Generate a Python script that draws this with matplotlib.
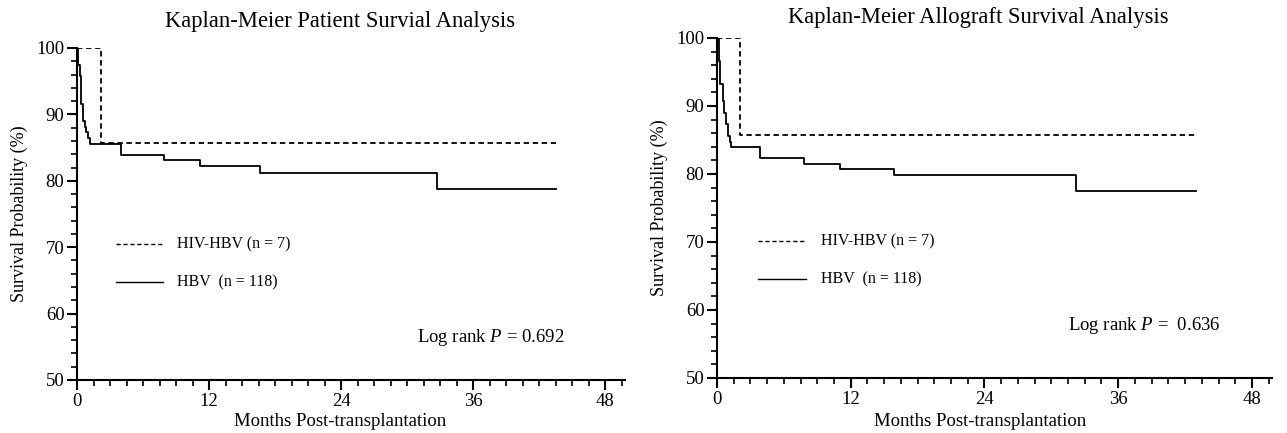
import matplotlib
matplotlib.use("Agg")
import matplotlib.pyplot as plt
from matplotlib.ticker import MultipleLocator

plt.rcParams['font.family'] = ['Liberation Serif', 'DejaVu Serif']
plt.rcParams['mathtext.fontset'] = 'custom'
plt.rcParams['mathtext.rm'] = 'Liberation Serif'
plt.rcParams['mathtext.it'] = 'Liberation Serif:italic'

# ---- data (months, survival %) ----
pat_hiv_t = [0, 2.2, 43.5]
pat_hiv_s = [100, 85.7, 85.7]
pat_hbv_t = [0, 0.1, 0.25, 0.4, 0.55, 0.7, 0.85, 1.0, 1.2, 4.0, 7.9, 11.2, 16.6, 32.7, 43.5]
pat_hbv_s = [100, 97.5, 95.8, 91.5, 89.0, 88.1, 87.3, 86.4, 85.6, 83.9, 83.1, 82.2, 81.2, 78.8, 78.8]

gft_hiv_t = [0, 2.1, 43.0]
gft_hiv_s = [100, 85.7, 85.7]
gft_hbv_t = [0, 0.15, 0.3, 0.5, 0.65, 0.8, 1.0, 1.15, 1.3, 3.9, 7.8, 11.0, 15.9, 32.2, 43.0]
gft_hbv_s = [100, 96.6, 93.2, 90.7, 89.0, 87.3, 85.6, 84.7, 84.0, 82.4, 81.5, 80.7, 79.8, 77.5, 77.5]

titles = ["Kaplan-Meier Patient Survial Analysis", "Kaplan-Meier Allograft Survival Analysis"]
legend_labels = ["HIV-HBV (n = 7)", "HBV  (n = 118)"]
pvalues = ["0.692", " 0.636"]
xticks = [0, 12, 24, 36, 48]
yticks = [50, 60, 70, 80, 90, 100]

fig = plt.figure(figsize=(12.87, 4.33), dpi=100)
W, H = 1287, 433
ax1 = fig.add_axes([77 / W, 1 - 380 / H, (625 - 77) / W, (380 - 48) / H])
ax2 = fig.add_axes([717 / W, 1 - 378 / H, (1272 - 717) / W, (378 - 38) / H])

panels = [
    (ax1, pat_hiv_t, pat_hiv_s, pat_hbv_t, pat_hbv_s),
    (ax2, gft_hiv_t, gft_hiv_s, gft_hbv_t, gft_hbv_s),
]
# (legend line x0, x1, text x), (legend rows y), (logrank x, y), title center x, title y, xlabel center x
layout = [((116, 163, 177), (244, 282), (417, 337), 340, 22, 340),
          ((758, 806, 821), (241, 279), (1068, 325), 978, 17, 980)]

for i, (ax, ht, hs, bt, bs) in enumerate(panels):
    ax.step(ht, hs, where='post', color='black', lw=1.3, linestyle=(0, (3, 2)))
    ax.step(bt, bs, where='post', color='black', lw=1.3)
    ax.set_xlim(0, 49.8)
    ax.set_ylim(50, 100)
    ax.set_xticks(xticks)
    ax.set_yticks(yticks)
    ax.xaxis.set_minor_locator(MultipleLocator(1.5))
    ax.yaxis.set_minor_locator(MultipleLocator(2))
    for s in ['top', 'right']:
        ax.spines[s].set_visible(False)
    for s in ['left', 'bottom']:
        ax.spines[s].set_linewidth(1.5)
    ax.tick_params(which='major', direction='out', length=7, width=1.5, labelsize=13.5, pad=2)
    ax.tick_params(which='minor', direction='out', length=4, width=1.2)
    ax.set_ylabel("Survival Probability (%)", fontsize=13, labelpad=6)

    (lx0, lx1, tx), (y1, y2), (px, py), tcx, tcy, xlx = layout[i]
    fig.text(tcx / W, 1 - tcy / H, titles[i], fontsize=16.3, ha='center', va='center')
    fig.text(xlx / W, 1 - 422 / H, "Months Post-transplantation", fontsize=13.5,
             ha='center', va='center')
    for y, ls, lab in [(y1, (0, (3, 2)), legend_labels[0]), (y2, '-', legend_labels[1])]:
        fig.add_artist(plt.Line2D([lx0 / W, lx1 / W], [1 - y / H, 1 - y / H],
                                  color='black', lw=1.0, linestyle=ls, transform=fig.transFigure))
        fig.text(tx / W, 1 - y / H, lab, fontsize=11.5, va='center', ha='left')
    fig.text(px / W, 1 - py / H, "Log rank $\\it{P}$ = " + pvalues[i], fontsize=13.5,
             va='center', ha='left')

fig.savefig("out.png", dpi=100)
